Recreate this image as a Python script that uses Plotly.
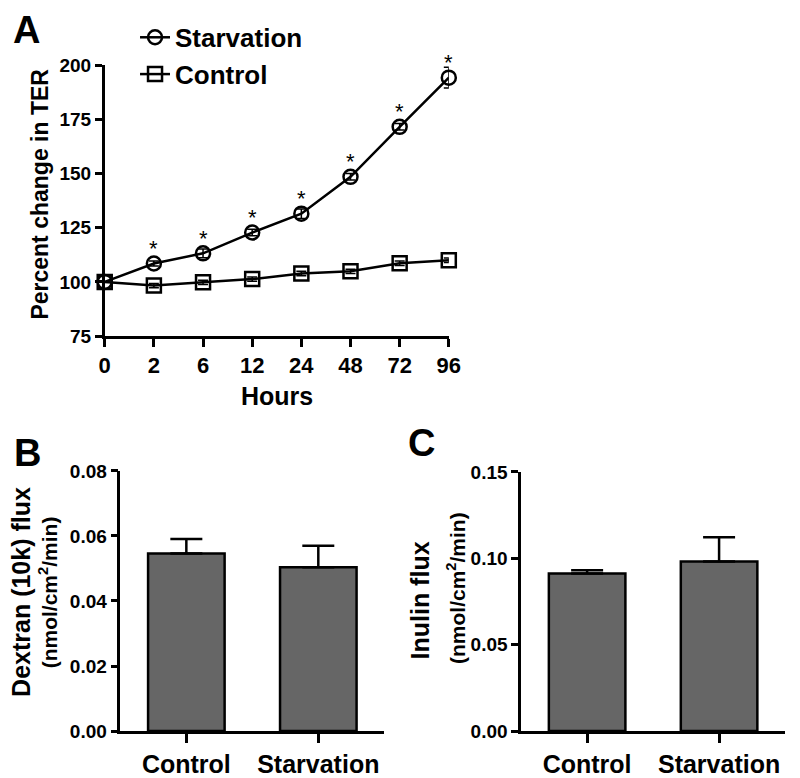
import plotly.graph_objects as go

# ---- Data ----
hours = ["0", "2", "6", "12", "24", "48", "72", "96"]
starvation = [100, 108.5, 113.2, 122.8, 131.5, 148.5, 171.6, 194.3]
starvation_err = [0, 1.2, 2.0, 1.5, 2.2, 1.5, 1.5, 4.8]
control = [100, 98.3, 99.8, 101.3, 103.9, 104.9, 108.6, 110.0]
control_err = [0, 1.0, 1.0, 1.0, 1.0, 1.0, 1.0, 1.0]
signif = ["", "*", "*", "*", "*", "*", "*", "*"]

groups = ["Control", "Starvation"]
dextran = [0.0546, 0.0504]
dextran_err = [0.0045, 0.0066]
inulin = [0.0912, 0.0981]
inulin_err = [0.0019, 0.0141]

W, H = 800, 778
FONT = "Liberation Sans, Arial, sans-serif"
BLACK = "#000000"
BARC = "#666666"

def px(x):
    return x / W

def py(y):
    return 1 - y / H

xi = list(range(len(hours)))

fig = go.Figure()

fig.add_trace(go.Scatter(
    x=xi, y=starvation, name="Starvation", mode="lines+markers",
    line=dict(color=BLACK, width=2.5),
    marker=dict(symbol="circle-open", size=14, color=BLACK, line=dict(width=2.5, color=BLACK)),
    error_y=dict(type="data", array=starvation_err, visible=True, color=BLACK, thickness=1.5, width=5),
    cliponaxis=False, xaxis="x", yaxis="y",
))
fig.add_trace(go.Scatter(
    x=xi, y=control, name="Control", mode="lines+markers",
    line=dict(color=BLACK, width=2.5),
    marker=dict(symbol="square-open", size=14, color=BLACK, line=dict(width=2.5, color=BLACK)),
    error_y=dict(type="data", array=control_err, visible=True, color=BLACK, thickness=1.5, width=5),
    cliponaxis=False, xaxis="x", yaxis="y",
))

for i, (v, s) in enumerate(zip(starvation, signif)):
    if s:
        fig.add_annotation(x=i, y=v, xref="x", yref="y", text=s, showarrow=False,
                           yshift=15, font=dict(family=FONT, size=22, color=BLACK))

fig.add_trace(go.Bar(
    x=[0, 1], y=dextran, width=0.58, showlegend=False,
    marker=dict(color=BARC, line=dict(color=BLACK, width=2.5)),
    error_y=dict(type="data", symmetric=False, array=dextran_err, arrayminus=[0, 0],
                 color=BLACK, thickness=2.5, width=16),
    xaxis="x2", yaxis="y2",
))
fig.add_trace(go.Bar(
    x=[0, 1], y=inulin, width=0.58, showlegend=False,
    marker=dict(color=BARC, line=dict(color=BLACK, width=2.5)),
    error_y=dict(type="data", symmetric=False, array=inulin_err, arrayminus=[0, 0],
                 color=BLACK, thickness=2.5, width=16),
    xaxis="x3", yaxis="y3",
))

axis_common = dict(showgrid=False, zeroline=False, showline=True, linecolor=BLACK,
                   linewidth=2.5, ticks="outside", tickcolor=BLACK, tickwidth=2.5,
                   mirror=False)

fig.update_layout(
    width=W, height=H, margin=dict(l=0, r=0, t=0, b=0),
    paper_bgcolor="white", plot_bgcolor="white",
    font=dict(family=FONT, color=BLACK),
    showlegend=True,
    legend=dict(x=px(132), y=py(4), xanchor="left", yanchor="top",
                font=dict(family=FONT, size=26, color=BLACK, weight="bold"),
                bgcolor="rgba(0,0,0,0)", itemwidth=30, tracegroupgap=0),
    xaxis=dict(**axis_common, domain=[px(101), px(453)], range=[0, 7],
               tickvals=xi, ticktext=hours, ticklen=8,
               tickfont=dict(family=FONT, size=22, color=BLACK, weight="bold"),
               anchor="y"),
    yaxis=dict(**axis_common, domain=[py(336), py(57)], range=[75, 200],
               tickvals=[75, 100, 125, 150, 175, 200], ticklen=7,
               tickfont=dict(family=FONT, size=19, color=BLACK, weight="bold"),
               anchor="x"),
    xaxis2=dict(**axis_common, domain=[px(117), px(387)], range=[-0.5, 1.5],
                tickvals=[0, 1], ticktext=groups, ticklen=9,
                tickfont=dict(family=FONT, size=25, color=BLACK, weight="bold"),
                anchor="y2"),
    yaxis2=dict(**axis_common, domain=[py(743), py(475)], range=[0, 0.08],
                tickvals=[0, 0.02, 0.04, 0.06, 0.08], tickformat=".2f", ticklen=7,
                tickfont=dict(family=FONT, size=19, color=BLACK, weight="bold"),
                anchor="x2"),
    xaxis3=dict(**axis_common, domain=[px(527), px(797)], range=[-0.5, 1.5],
                tickvals=[0, 1], ticktext=groups, ticklen=9,
                tickfont=dict(family=FONT, size=25, color=BLACK, weight="bold"),
                anchor="y3"),
    yaxis3=dict(**axis_common, domain=[py(743), py(476)], range=[0, 0.15],
                tickvals=[0, 0.05, 0.10, 0.15], tickformat=".2f", ticklen=7,
                tickfont=dict(family=FONT, size=19, color=BLACK, weight="bold"),
                anchor="x3"),
)

def ann(x, y, text, size, angle=0):
    fig.add_annotation(x=px(x), y=py(y), xref="paper", yref="paper", text=text,
                       showarrow=False, textangle=angle, xanchor="center", yanchor="middle",
                       font=dict(family=FONT, size=size, color=BLACK, weight="bold"))

ann(21, 21, "A", 38)
ann(22, 456, "B", 38)
ann(425, 446, "C", 38)
ann(35, 190, "Percent change in TER", 23, -90)
ann(277, 398, "Hours", 25)
ann(16, 600, "Dextran (10k) flux", 25, -90)
ann(43, 600, "(nmol/cm<sup>2</sup>/min)", 21, -90)
ann(424, 608, "Inulin flux", 25, -90)
ann(461, 596, "(nmol/cm<sup>2</sup>/min)", 21, -90)

fig.write_html("out.html", config={"displayModeBar": False},
               post_script="document.body.style.margin='0px';document.body.style.padding='0px';")
